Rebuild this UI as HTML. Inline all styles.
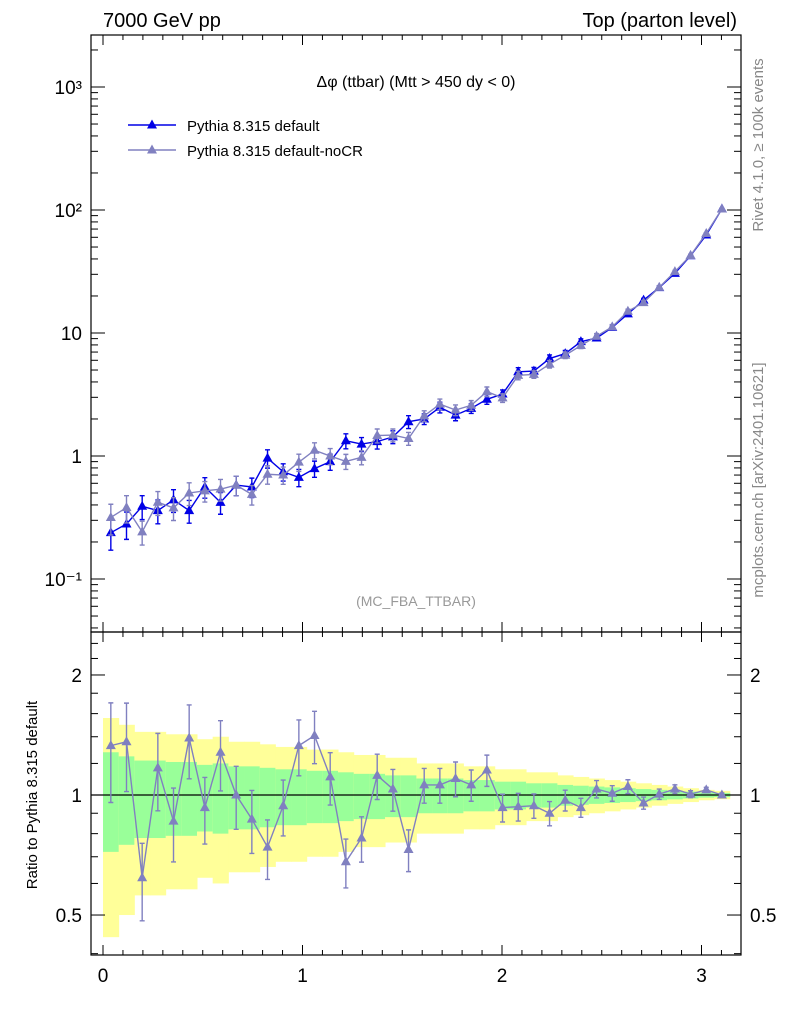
<!DOCTYPE html>
<html><head><meta charset="utf-8">
<style>
body{margin:0;background:#fff;}
svg{display:block;font-family:"Liberation Sans",sans-serif;}
</style></head>
<body>
<svg id="c" width="786" height="1024"></svg>
<script>
const binEdgesN = 40;
const xMax = Math.PI;
const defaultVals = [0.238,0.28,0.39,0.36,0.44,0.36,0.56,0.42,0.58,0.56,0.96,0.745,0.67,0.79,0.90,1.33,1.25,1.31,1.43,1.9,2.0,2.49,2.15,2.44,2.89,3.19,4.84,4.9,6.2,6.8,8.5,9.1,11.1,14.3,18.5,23.4,30.5,42.5,62.6,102];
const ratioVals = [1.33,1.36,0.62,1.17,0.86,1.39,0.93,1.28,1.0,0.87,0.74,0.94,1.33,1.41,1.11,0.68,0.78,1.12,1.035,0.73,1.06,1.06,1.10,1.06,1.155,0.93,0.935,0.94,0.90,0.97,0.93,1.035,1.01,1.05,0.955,1.005,1.035,1.005,1.03,1.0];
const relErr = [0.28,0.25,0.22,0.22,0.21,0.21,0.19,0.20,0.18,0.18,0.17,0.16,0.16,0.15,0.15,0.14,0.13,0.13,0.12,0.12,0.10,0.10,0.10,0.09,0.09,0.08,0.08,0.07,0.07,0.06,0.055,0.05,0.045,0.04,0.035,0.03,0.025,0.02,0.015,0.012];
const yTickLabels = ["10\u207B\u00B9","1","10","10\u00B2","10\u00B3"];
const rTicks = [0.5,1,2];

const svg = document.getElementById('c');
const NS = "http://www.w3.org/2000/svg";
function mk(tag, attrs, parent){const e=document.createElementNS(NS,tag);for(const k in attrs)e.setAttribute(k,attrs[k]);(parent||svg).appendChild(e);return e;}
const L=91,R=741,T=35,M=632,B=955;
const x0=103, xs=199.5;
const X = v => x0 + v*xs;
const Y = v => 456 - 123*Math.log10(v);
const RY = v => 795 - 398.7*Math.log10(v);
const bw = xMax/binEdgesN;

// bands
const gBand = mk('g',{});


for(let i=0;i<binEdgesN;i++){
  const xa=X(i*bw), xb=X((i+1)*bw)+0.5, e=relErr[i];
  const y1=mk('rect',{x:xa,y:RY(1+2*e),width:xb-xa,height:Math.min(RY(Math.max(1-2*e,0.39)),B)-RY(1+2*e),fill:'#ffff99'},gBand);
  
  
  const g1=mk('rect',{x:xa,y:RY(1+e),width:xb-xa,height:RY(1-e)-RY(1+e),fill:'#99ff99'},gBand);
  
  
}
const one=mk('line',{x1:L,x2:R,y1:RY(1),y2:RY(1),stroke:'#000','stroke-width':1.3});



function tri(x,y,col,p){mk('polygon',{points:`${x},${y-5.5} ${x-5},${y+3.5} ${x+5},${y+3.5}`,fill:col},p);}
function series(vals, errs, yf, col, name){
  const g=mk('g',{});
  
  
  let d='';
  vals.forEach((v,i)=>{const x=X((i+0.5)*bw);d+=(i?'L':'M')+x+','+yf(v);});
  mk('path',{d,fill:'none',stroke:col,'stroke-width':1.4},g);
  vals.forEach((v,i)=>{
    const x=X((i+0.5)*bw), e=errs[i];
    const ya=yf(v*(1+e)), yb=yf(Math.max(v*(1-e),1e-6));
    mk('path',{d:`M${x},${ya}V${yb}M${x-2.5},${ya}h5M${x-2.5},${yb}h5`,stroke:col,'stroke-width':1.4,fill:'none'},g);
    tri(x,yf(v),col,g);
  });
}
const noCR = defaultVals.map((v,i)=>v*ratioVals[i]);
series(defaultVals, relErr, Y, '#0000e6','series-default');
series(noCR, relErr, Y, '#8080c0','series-nocr');
series(ratioVals, relErr, RY, '#8080c0','ratio-nocr');

// frames
const f1=mk('rect',{x:L,y:T,width:R-L,height:M-T,fill:'none',stroke:'#000','stroke-width':1.2});


const f2=mk('rect',{x:L,y:M,width:R-L,height:B-M,fill:'none',stroke:'#000','stroke-width':1.2});



// ticks
const tk=mk('g',{stroke:'#000','stroke-width':1});


for(let k=0;k<=31;k++){
  const v=k/10, x=X(v), len=(k%10==0)?10:5;
  [T,M].forEach(y=>mk('line',{x1:x,x2:x,y1:y,y2:y+len},tk));
  mk('line',{x1:x,x2:x,y1:M,y2:M-len},tk);
  mk('line',{x1:x,x2:x,y1:B,y2:B-len},tk);
}
for(let dec=-2;dec<=3;dec++){
  for(let m=1;m<10;m++){
    const v=m*Math.pow(10,dec), y=Y(v);
    if(y<T||y>M) continue;
    const len=m==1?14:7;
    mk('line',{x1:L,x2:L+len,y1:y,y2:y},tk);
    mk('line',{x1:R,x2:R-len,y1:y,y2:y},tk);
  }
}
[0.4,0.5,0.6,0.7,0.8,0.9,1,1.2,1.4,1.6,1.8,2,2.2,2.4].forEach(v=>{
  const y=RY(v); if(y<M||y>B) return;
  const len=(v==0.5||v==1||v==2)?14:7;
  mk('line',{x1:L,x2:L+len,y1:y,y2:y},tk);
  mk('line',{x1:R,x2:R-len,y1:y,y2:y},tk);
});

function txt(s,x,y,attrs,name){const e=mk('text',Object.assign({x,y,'font-size':19,fill:'#000'},attrs||{}));e.textContent=s;return e;}
yTickLabels.forEach((s,i)=>txt(s,82,Y(Math.pow(10,i-1))+7,{'text-anchor':'end'},'y-tick-label'));
rTicks.forEach(v=>{const s=v==0.5?'0.5':String(v);txt(s,82,RY(v)+7,{'text-anchor':'end'},'ratio-tick-label-left');txt(s,750,RY(v)+7,{},'ratio-tick-label-right');});
[0,1,2,3].forEach(v=>txt(String(v),X(v),982,{'text-anchor':'middle'},'x-tick-label'));

txt('7000 GeV pp',103,27,{'font-size':20},'collision-label');
txt('Top (parton level)',737,27,{'font-size':20,'text-anchor':'end'},'process-label');
txt('\u0394\u03C6 (ttbar) (Mtt > 450 dy < 0)',416,87,{'font-size':16,'text-anchor':'middle'},'plot-title');
txt('(MC_FBA_TTBAR)',416,606,{'font-size':14,'text-anchor':'middle',fill:'#999'},'analysis-label');
txt('Ratio to Pythia 8.315 default',37,795,{'font-size':15,'text-anchor':'middle',transform:'rotate(-90 37 795)'},'ratio-y-axis-title');
txt('Rivet 4.1.0, \u2265 100k events',763,145,{'font-size':15,'text-anchor':'middle',fill:'#888',transform:'rotate(-90 763 145)'},'rivet-label');
txt('mcplots.cern.ch [arXiv:2401.10621]',763,480,{'font-size':15,'text-anchor':'middle',fill:'#888',transform:'rotate(-90 763 480)'},'mcplots-label');

// legend
const lg=mk('g',{});


[['Pythia 8.315 default','#0000e6',125],['Pythia 8.315 default-noCR','#8080c0',150]].forEach(([s,c,y])=>{
  mk('line',{x1:128,x2:176,y1:y,y2:y,stroke:c,'stroke-width':1.4},lg);
  tri(152,y,c,lg);
  txt(s,187,y+6,{'font-size':15},'legend-entry');
});
</script>
</body></html>
